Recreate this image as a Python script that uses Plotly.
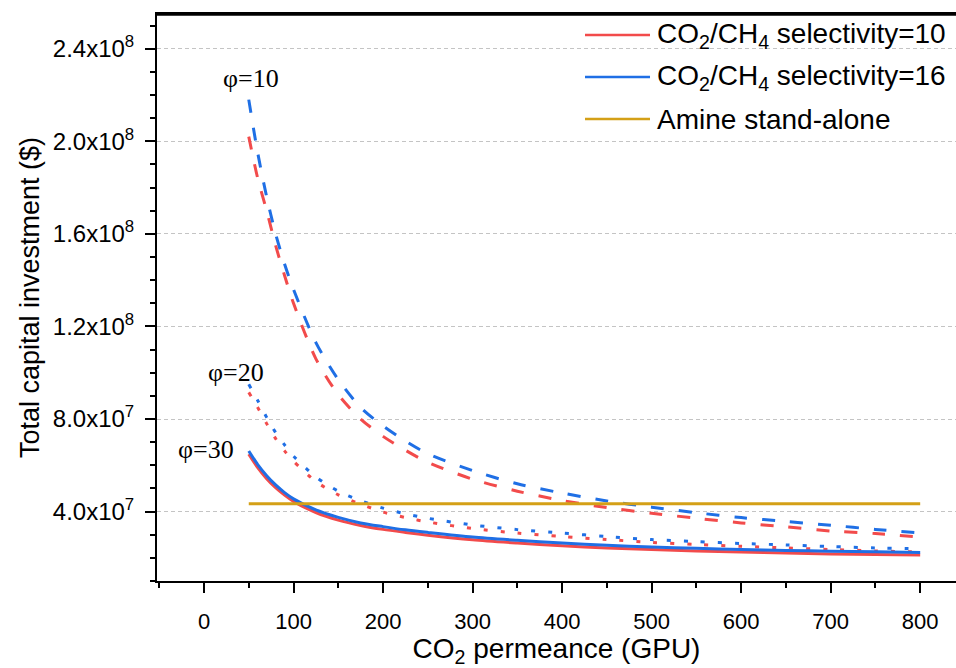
import plotly.graph_objects as go

permeance = [50, 60, 70, 80, 90, 100, 125, 150, 175, 200, 225, 250, 300, 350, 400,
             450, 500, 550, 600, 650, 700, 750, 800]

# phi = 10 (dashed)
phi10_sel10 = [2.02e8, 1.84e8, 1.70e8, 1.55e8, 1.42e8, 1.30e8, 1.06e8, 9.05e7, 8.0e7, 7.25e7,
               6.65e7, 6.13e7, 5.40e7, 4.88e7, 4.48e7, 4.17e7, 3.93e7, 3.71e7, 3.51e7,
               3.34e7, 3.16e7, 3.05e7, 2.90e7]
phi10_sel16 = [2.18e8, 1.95e8, 1.76e8, 1.60e8, 1.47e8, 1.36e8, 1.13e8, 9.7e7, 8.5e7, 7.7e7,
               7.05e7, 6.5e7, 5.77e7, 5.2e7, 4.8e7, 4.46e7, 4.19e7, 3.95e7, 3.74e7,
               3.57e7, 3.41e7, 3.23e7, 3.08e7]
# phi = 20 (dotted)
phi20_sel10 = [9.15e7, 8.5e7, 7.8e7, 7.15e7, 6.62e7, 6.18e7, 5.3e7, 4.72e7, 4.32e7, 3.98e7,
               3.74e7, 3.55e7, 3.27e7, 3.07e7, 2.92e7, 2.79e7, 2.67e7, 2.58e7, 2.50e7,
               2.43e7, 2.36e7, 2.30e7, 2.25e7]
phi20_sel16 = [9.5e7, 8.8e7, 8.07e7, 7.42e7, 6.88e7, 6.4e7, 5.5e7, 4.88e7, 4.47e7, 4.15e7,
               3.9e7, 3.71e7, 3.42e7, 3.22e7, 3.07e7, 2.92e7, 2.79e7, 2.70e7, 2.62e7,
               2.56e7, 2.49e7, 2.43e7, 2.39e7]
# phi = 30 (solid)
phi30_sel10 = [6.48e7, 5.9e7, 5.42e7, 5.03e7, 4.71e7, 4.44e7, 3.96e7, 3.63e7, 3.4e7, 3.23e7,
               3.1e7, 2.98e7, 2.78e7, 2.64e7, 2.52e7, 2.43e7, 2.36e7, 2.30e7, 2.25e7,
               2.21e7, 2.17e7, 2.14e7, 2.12e7]
phi30_sel16 = [6.62e7, 6.03e7, 5.55e7, 5.15e7, 4.82e7, 4.55e7, 4.07e7, 3.75e7, 3.51e7, 3.35e7,
               3.21e7, 3.1e7, 2.9e7, 2.76e7, 2.64e7, 2.54e7, 2.47e7, 2.41e7, 2.36e7,
               2.32e7, 2.29e7, 2.26e7, 2.23e7]

amine_x = [50, 800]
amine_y = [4.34e7, 4.34e7]

ytick_vals = [4e7, 8e7, 1.2e8, 1.6e8, 2.0e8, 2.4e8]
ytick_text = ["4.0x10<sup>7</sup>", "8.0x10<sup>7</sup>", "1.2x10<sup>8</sup>",
              "1.6x10<sup>8</sup>", "2.0x10<sup>8</sup>", "2.4x10<sup>8</sup>"]

legend_labels = ["CO<sub>2</sub>/CH<sub>4</sub> selectivity=10",
                 "CO<sub>2</sub>/CH<sub>4</sub> selectivity=16",
                 "Amine stand-alone"]

phi_labels = ["φ=10", "φ=20", "φ=30"]
phi_label_x = [52, 36, 2]
phi_label_y = [2.27e8, 1.0e8, 6.7e7]

RED = "#F24B4B"
BLUE = "#1F6FE5"
GOLD = "#D4A017"
DASH = "13px,15px"
DOT = "4px,13px"

W, H = 956, 668
L, R, T, B = 157, 956, 14, 581  # plot area in pixels


def px_x(p):
    return (p - L) / (R - L)


def px_y(p):
    return (B - p) / (B - T)


fig = go.Figure()

series = [
    (phi10_sel10, RED, DASH), (phi10_sel16, BLUE, DASH),
    (phi20_sel10, RED, DOT), (phi20_sel16, BLUE, DOT),
    (phi30_sel10, RED, "solid"), (phi30_sel16, BLUE, "solid"),
]
for ys, col, dash in series:
    fig.add_trace(go.Scatter(x=permeance, y=ys, mode="lines",
                             line=dict(color=col, width=3, dash=dash, shape="spline", smoothing=0.8),
                             showlegend=False, hoverinfo="skip"))

fig.add_trace(go.Scatter(x=amine_x, y=amine_y, mode="lines",
                         line=dict(color=GOLD, width=3), showlegend=False, hoverinfo="skip"))

# manual legend
leg_colors = [RED, BLUE, GOLD]
leg_y_px = [35, 77, 119]
for lab, col, ypx in zip(legend_labels, leg_colors, leg_y_px):
    yp = px_y(ypx)
    fig.add_shape(type="line", xref="paper", yref="paper", x0=px_x(585), x1=px_x(650),
                  y0=yp, y1=yp, line=dict(color=col, width=2.5), layer="above")
    fig.add_annotation(xref="paper", yref="paper", x=px_x(655), y=yp, text=lab,
                       showarrow=False, xanchor="left", yanchor="middle",
                       font=dict(family="Liberation Sans, Arial", size=28, color="black"))

for t, xv, yv in zip(phi_labels, phi_label_x, phi_label_y):
    fig.add_annotation(x=xv, y=yv, text=t, showarrow=False, xanchor="center", yanchor="middle",
                       font=dict(family="Liberation Serif, Times New Roman", size=26, color="black"))

# top frame line
fig.add_shape(type="line", xref="paper", yref="paper", x0=-0.002, x1=1, y0=0.999, y1=0.999,
              line=dict(color="black", width=2.5), layer="above")

fig.update_layout(
    width=W, height=H,
    margin=dict(l=L, r=W - R, t=T, b=H - B),
    paper_bgcolor="white", plot_bgcolor="white",
    font=dict(family="Liberation Sans, Arial", color="black"),
)
fig.update_xaxes(
    range=[-52.5, 840], tickmode="linear", tick0=0, dtick=100,
    ticks="outside", ticklen=10, tickwidth=2, tickcolor="black",
    minor=dict(tickmode="linear", tick0=0, dtick=50, ticks="outside", ticklen=5,
               tickwidth=2, tickcolor="black"),
    showline=True, linewidth=2, linecolor="black", mirror=True,
    showgrid=False, zeroline=False,
    tickfont=dict(size=22), ticklabelstandoff=10,
    title=dict(text="CO<sub>2</sub> permeance (GPU)", font=dict(size=28), standoff=4),
    automargin=False,
)
fig.update_yaxes(
    range=[1e7, 2.55e8], tickmode="array", tickvals=ytick_vals, ticktext=ytick_text,
    ticks="outside", ticklen=10, tickwidth=2, tickcolor="black",
    minor=dict(tickmode="linear", tick0=0, dtick=1e7, ticks="outside", ticklen=5,
               tickwidth=2, tickcolor="black", showgrid=False),
    showline=True, linewidth=2, linecolor="black",
    showgrid=True, gridcolor="#c4c4c4", gridwidth=1, griddash="4px,3px",
    zeroline=False,
    tickfont=dict(size=24), ticklabelstandoff=6,
    title=dict(text="Total capital investment ($)", font=dict(size=27), standoff=5),
    automargin=False,
)

fig.write_html("out.html", config={"displayModeBar": False},
               post_script="document.body.style.margin='0';")
